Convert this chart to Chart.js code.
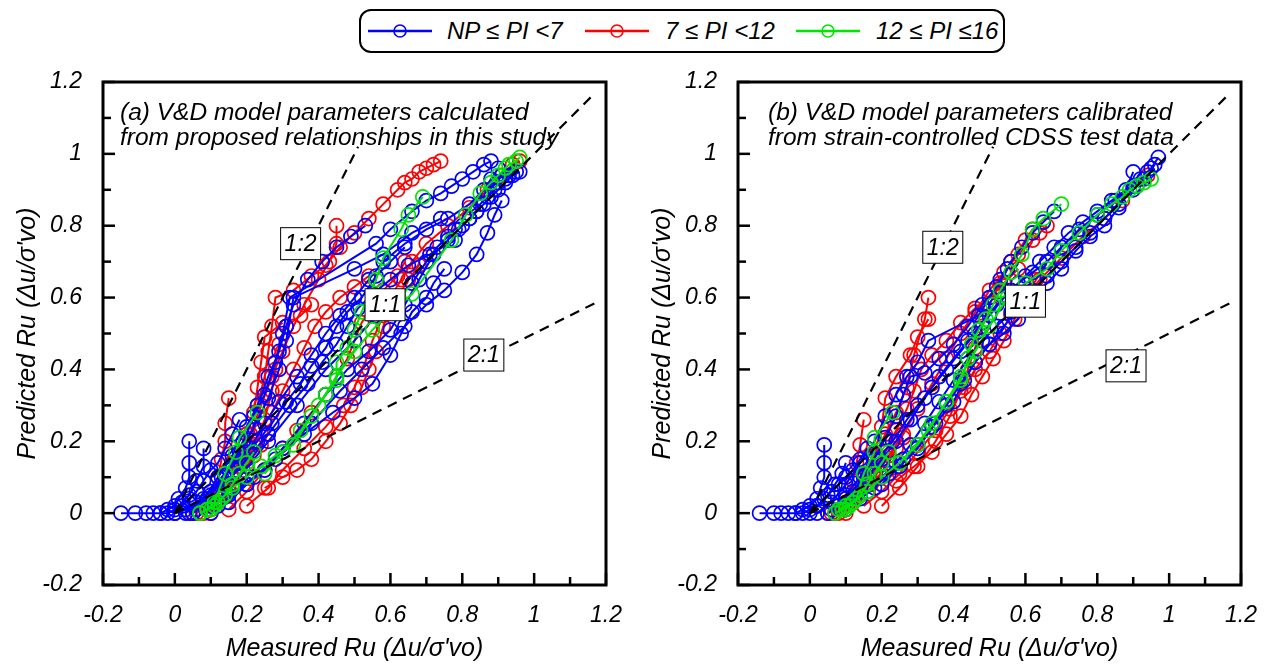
<!DOCTYPE html>
<html>
<head>
<meta charset="utf-8">
<script src="https://cdn.jsdelivr.net/npm/chart.js@4.4.1/dist/chart.umd.min.js"></script>
<style>
  body { margin: 0; background: #fff; font-family: Arial, "Liberation Sans", sans-serif; }
  #wrap { position: relative; width: 1270px; height: 666px; overflow: hidden; }
  .panel { position: absolute; top: 0; }
  #legend { position: absolute; left: 359px; top: 9px; width: 642px; height: 40px;
            border: 2px solid #000; border-radius: 12px; }
  #legend svg, #legend span { position: absolute; }
  #legend span { top: 6px; font-style: italic; font-size: 24px; color: #000; white-space: nowrap; }
</style>
</head>
<body>
<div id="wrap">
  <div id="legend"></div>
  <canvas id="panelA" class="panel" width="635" height="666" style="left:0"></canvas>
  <canvas id="panelB" class="panel" width="635" height="666" style="left:635px"></canvas>
</div>
<script>
// axis ticks
const xTicks = [-0.2, 0, 0.2, 0.4, 0.6, 0.8, 1, 1.2];
const xTickLabels = ['-0.2', '0', '0.2', '0.4', '0.6', '0.8', '1', '1.2'];
const yTicks = [-0.2, 0, 0.2, 0.4, 0.6, 0.8, 1, 1.2];
const yTickLabels = ['-0.2', '0', '0.2', '0.4', '0.6', '0.8', '1', '1.2'];

// groups
const groupNames = ['NP \u2264 PI <7', '7 \u2264 PI <12', '12 \u2264 PI \u226416'];
const groupColors = ['#0000ff', '#ff0000', '#00e600'];

// reference lines (measured, predicted)
const line11 = [[0, 0], [1.17, 1.17]];
const line12 = [[0, 0], [0.51, 1.02]];
const line21 = [[0, 0], [1.17, 0.585]];

// (a) calculated from proposed relationships
const aBlue = [
  [[-0.15,0],[-0.11,0],[-0.08,0],[-0.06,0],[-0.04,0],[-0.02,0.01],[0,0.02],[0.01,0.04],[0.03,0.07],[0.04,0.1],[0.04,0.14],[0.04,0.2]],
  [[0,0],[0.02,0.03],[0.04,0.05],[0.06,0.09],[0.08,0.13],[0.08,0.18]],
  [[0.03,0],[0.08,0.04],[0.12,0.1],[0.16,0.16],[0.2,0.24],[0.23,0.3],[0.26,0.38],[0.29,0.45],[0.31,0.52],[0.33,0.58],[0.37,0.65],[0.41,0.7],[0.45,0.74],[0.49,0.77],[0.53,0.8]],
  [[0.05,0],[0.1,0.05],[0.15,0.12],[0.19,0.2],[0.22,0.27],[0.25,0.33],[0.28,0.42],[0.3,0.5],[0.32,0.6],[0.56,0.75],[0.6,0.79],[0.66,0.84],[0.7,0.87],[0.74,0.89],[0.77,0.91],[0.8,0.93],[0.83,0.95],[0.86,0.97],[0.88,0.98]],
  [[0.04,0],[0.09,0.04],[0.14,0.1],[0.18,0.17],[0.22,0.24],[0.26,0.32],[0.29,0.4],[0.31,0.48],[0.33,0.6],[0.5,0.68],[0.58,0.72],[0.66,0.78],[0.74,0.82]],
  [[0.1,0],[0.15,0.03],[0.2,0.08],[0.25,0.12],[0.3,0.18],[0.36,0.25],[0.42,0.33],[0.48,0.4],[0.54,0.45],[0.6,0.51],[0.64,0.58],[0.68,0.65],[0.72,0.72],[0.76,0.76],[0.79,0.79],[0.82,0.82],[0.84,0.84],[0.86,0.86],[0.88,0.88],[0.9,0.9],[0.92,0.92],[0.94,0.94],[0.96,0.95]],
  [[0.1,0.02],[0.18,0.1],[0.26,0.2],[0.34,0.3],[0.42,0.4],[0.5,0.48],[0.56,0.55],[0.62,0.6],[0.66,0.64],[0.7,0.7],[0.73,0.74],[0.76,0.77],[0.78,0.79],[0.8,0.8],[0.82,0.82],[0.84,0.84],[0.85,0.86],[0.87,0.88],[0.89,0.9],[0.9,0.92],[0.92,0.93],[0.93,0.94],[0.95,0.95]],
  [[0.06,0.01],[0.12,0.06],[0.17,0.12],[0.21,0.18],[0.25,0.25],[0.29,0.31],[0.34,0.38],[0.38,0.44],[0.42,0.5],[0.46,0.55],[0.5,0.6],[0.54,0.65],[0.58,0.7],[0.64,0.75],[0.7,0.79],[0.76,0.82],[0.82,0.86],[0.86,0.9],[0.88,0.93],[0.9,0.96]],
  [[0.08,0.02],[0.14,0.08],[0.2,0.15],[0.26,0.22],[0.32,0.3],[0.37,0.36],[0.41,0.42],[0.45,0.47],[0.48,0.52],[0.51,0.57],[0.55,0.61],[0.6,0.65],[0.65,0.69],[0.71,0.72],[0.78,0.76]],
  [[0.12,0.02],[0.2,0.08],[0.28,0.15],[0.36,0.22],[0.44,0.28],[0.5,0.32],[0.55,0.36],[0.6,0.44],[0.63,0.5],[0.66,0.56],[0.7,0.6],[0.72,0.64],[0.75,0.68]],
  [[0.15,0.05],[0.22,0.1],[0.3,0.17],[0.38,0.25],[0.46,0.34],[0.52,0.4],[0.58,0.46],[0.64,0.52],[0.7,0.58],[0.75,0.62],[0.8,0.67],[0.84,0.72],[0.87,0.78],[0.89,0.83],[0.91,0.87]],
  [[-0.04,0],[-0.02,0],[0,0.01],[0.02,0.02],[0.04,0.04],[0.06,0.06],[0.08,0.09],[0.1,0.12],[0.12,0.14],[0.14,0.18],[0.16,0.22],[0.18,0.26]],
  [[0,0],[0.03,0.01],[0.06,0.03],[0.1,0.06],[0.13,0.1],[0.16,0.13],[0.2,0.17],[0.23,0.2],[0.27,0.25],[0.31,0.31],[0.35,0.36],[0.38,0.41],[0.42,0.46],[0.45,0.52],[0.48,0.56],[0.52,0.6],[0.56,0.66],[0.6,0.7],[0.64,0.74]]
];
const aRed = [
  [[0.08,0],[0.12,0.06],[0.16,0.14],[0.2,0.22],[0.23,0.3],[0.25,0.38],[0.26,0.45],[0.27,0.52],[0.28,0.6],[0.33,0.62],[0.38,0.66],[0.42,0.69],[0.46,0.74],[0.5,0.78],[0.54,0.82],[0.58,0.86],[0.62,0.9],[0.64,0.92],[0.66,0.93],[0.68,0.95],[0.7,0.96],[0.72,0.97],[0.74,0.98]],
  [[0.07,0],[0.1,0.04],[0.12,0.1],[0.13,0.15],[0.14,0.2],[0.14,0.25],[0.15,0.32]],
  [[0.1,0],[0.14,0.06],[0.18,0.14],[0.21,0.22],[0.24,0.3],[0.27,0.38],[0.3,0.45],[0.33,0.52],[0.36,0.58],[0.4,0.65],[0.43,0.7],[0.45,0.75],[0.45,0.8]],
  [[0.1,0.01],[0.15,0.06],[0.19,0.12],[0.22,0.19],[0.25,0.26],[0.27,0.34],[0.28,0.4],[0.29,0.47],[0.31,0.52],[0.35,0.55],[0.38,0.58]],
  [[0.2,0.02],[0.26,0.07],[0.3,0.12],[0.36,0.18],[0.42,0.24],[0.47,0.3],[0.5,0.35],[0.53,0.42],[0.55,0.48],[0.58,0.55],[0.6,0.6],[0.63,0.65],[0.66,0.7],[0.7,0.75],[0.76,0.8],[0.82,0.85],[0.87,0.9],[0.91,0.94],[0.94,0.97],[0.96,0.98]],
  [[0.25,0.07],[0.3,0.1],[0.34,0.12],[0.38,0.15],[0.42,0.2],[0.46,0.25],[0.49,0.3],[0.52,0.35],[0.54,0.4],[0.56,0.45],[0.58,0.52],[0.6,0.57],[0.62,0.6],[0.65,0.65],[0.68,0.69]],
  [[0.05,0],[0.1,0.03],[0.14,0.08],[0.18,0.13],[0.21,0.18],[0.24,0.23],[0.27,0.28],[0.3,0.34],[0.33,0.4],[0.36,0.46],[0.39,0.52],[0.42,0.56],[0.46,0.6],[0.5,0.63],[0.54,0.66]],
  [[0.15,0.01],[0.2,0.06],[0.25,0.12],[0.3,0.18],[0.34,0.23],[0.38,0.28],[0.42,0.33],[0.45,0.38],[0.48,0.43],[0.5,0.48],[0.52,0.53],[0.55,0.58],[0.58,0.62],[0.62,0.66],[0.64,0.7]],
  [[0.06,0],[0.09,0.02],[0.12,0.04],[0.15,0.07],[0.18,0.1],[0.2,0.13],[0.22,0.16],[0.24,0.19],[0.26,0.22]],
  [[0.1,0.01],[0.13,0.05],[0.16,0.1],[0.18,0.16],[0.2,0.22],[0.22,0.28],[0.23,0.35],[0.24,0.42],[0.25,0.49],[0.3,0.53]]
];
const aGreen = [
  [[0.07,0],[0.09,0.01],[0.11,0.03],[0.14,0.11],[0.17,0.17],[0.18,0.21],[0.23,0.28]],
  [[0.07,0],[0.09,0.01],[0.11,0.02],[0.13,0.04],[0.16,0.07],[0.2,0.1],[0.24,0.13],[0.28,0.16],[0.33,0.19],[0.38,0.27],[0.42,0.33],[0.45,0.37],[0.45,0.42],[0.48,0.46],[0.5,0.51],[0.52,0.56],[0.56,0.65],[0.58,0.71],[0.63,0.79],[0.65,0.83],[0.69,0.88]],
  [[0.25,0.11],[0.3,0.17],[0.35,0.23],[0.4,0.3],[0.45,0.38],[0.5,0.45],[0.55,0.51],[0.6,0.56],[0.66,0.61],[0.77,0.76],[0.81,0.83],[0.85,0.89],[0.88,0.92],[0.9,0.94],[0.92,0.96],[0.93,0.97],[0.95,0.98],[0.96,0.99]],
  [[0.1,0.01],[0.12,0.03],[0.14,0.05],[0.16,0.08],[0.18,0.11],[0.2,0.14],[0.22,0.17]]
];

// (b) calibrated from strain-controlled CDSS test data
const bBlue = [
  [[-0.14,0],[-0.1,0],[-0.08,0],[-0.06,0],[-0.04,0],[-0.02,0.01],[0,0.02],[0.02,0.04],[0.03,0.07],[0.04,0.1],[0.04,0.14],[0.04,0.19]],
  [[0,0],[0.02,0.02],[0.05,0.05],[0.07,0.08],[0.09,0.11],[0.1,0.14]],
  [[0.02,0],[0.06,0.03],[0.1,0.08],[0.14,0.14],[0.18,0.2],[0.21,0.27],[0.24,0.33],[0.27,0.38],[0.3,0.42],[0.33,0.48],[0.47,0.55],[0.5,0.6],[0.53,0.65],[0.56,0.7],[0.59,0.74],[0.62,0.78],[0.65,0.81],[0.68,0.84]],
  [[0.08,0.02],[0.12,0.06],[0.16,0.1],[0.2,0.15],[0.24,0.2],[0.28,0.26],[0.32,0.32],[0.36,0.38],[0.4,0.43],[0.44,0.48],[0.48,0.53],[0.52,0.58],[0.56,0.62],[0.6,0.66],[0.64,0.7],[0.68,0.74],[0.72,0.78],[0.76,0.81],[0.8,0.84],[0.84,0.87],[0.88,0.9],[0.92,0.93],[0.95,0.96],[0.97,0.99]],
  [[0.1,0.01],[0.14,0.04],[0.18,0.07],[0.22,0.11],[0.26,0.15],[0.3,0.19],[0.34,0.24],[0.38,0.3],[0.42,0.36],[0.46,0.42],[0.5,0.47],[0.54,0.52],[0.58,0.57],[0.62,0.62],[0.66,0.66],[0.7,0.7],[0.74,0.74],[0.78,0.78],[0.82,0.82],[0.86,0.86],[0.9,0.9],[0.93,0.93],[0.96,0.97]],
  [[0.05,0],[0.1,0.04],[0.15,0.1],[0.19,0.15],[0.23,0.2],[0.27,0.26],[0.3,0.3],[0.34,0.35],[0.38,0.4],[0.42,0.45],[0.46,0.5],[0.5,0.55],[0.54,0.6],[0.58,0.64],[0.62,0.67],[0.66,0.7],[0.7,0.74],[0.75,0.79],[0.8,0.83],[0.85,0.87],[0.9,0.91],[0.94,0.95]],
  [[0.2,0.08],[0.25,0.13],[0.3,0.18],[0.35,0.25],[0.4,0.31],[0.43,0.37],[0.46,0.42],[0.5,0.47],[0.54,0.5],[0.58,0.54],[0.62,0.6],[0.66,0.64],[0.7,0.68],[0.74,0.73],[0.78,0.77],[0.82,0.8],[0.86,0.85],[0.9,0.95]],
  [[-0.04,0],[-0.02,0],[0,0.01],[0.02,0.02],[0.04,0.04],[0.06,0.06],[0.08,0.08],[0.1,0.1],[0.12,0.12],[0.14,0.15],[0.16,0.18]],
  [[0.12,0.03],[0.16,0.06],[0.2,0.1],[0.24,0.14],[0.28,0.19],[0.32,0.25],[0.36,0.31],[0.4,0.37],[0.44,0.43],[0.48,0.48],[0.52,0.52],[0.56,0.56],[0.6,0.6]],
  [[0.06,0.01],[0.1,0.05],[0.14,0.1],[0.18,0.15],[0.21,0.21],[0.24,0.27],[0.26,0.33],[0.28,0.38],[0.32,0.39],[0.36,0.43],[0.4,0.47],[0.44,0.52],[0.48,0.58],[0.52,0.63],[0.55,0.68]]
];
const bRed = [
  [[0.08,0],[0.12,0.04],[0.15,0.1],[0.18,0.16],[0.21,0.22],[0.24,0.28],[0.27,0.35],[0.29,0.44],[0.32,0.54],[0.33,0.6]],
  [[0.07,0],[0.1,0.04],[0.12,0.09],[0.13,0.14],[0.14,0.19],[0.15,0.26]],
  [[0.1,0.01],[0.14,0.05],[0.18,0.1],[0.22,0.16],[0.26,0.22],[0.3,0.29],[0.34,0.36],[0.38,0.43],[0.42,0.5],[0.46,0.56],[0.5,0.62],[0.54,0.67],[0.58,0.72],[0.62,0.76],[0.64,0.78],[0.66,0.8]],
  [[0.24,0.09],[0.29,0.13],[0.34,0.17],[0.38,0.22],[0.42,0.27],[0.45,0.33],[0.48,0.38],[0.51,0.43],[0.54,0.48],[0.57,0.54],[0.6,0.6],[0.63,0.65],[0.66,0.7]],
  [[0.15,0.02],[0.2,0.06],[0.25,0.11],[0.3,0.17],[0.35,0.23],[0.39,0.29],[0.43,0.35],[0.46,0.4],[0.5,0.45],[0.53,0.5],[0.56,0.55],[0.6,0.6],[0.64,0.65],[0.7,0.71],[0.76,0.77],[0.82,0.82],[0.87,0.87],[0.91,0.91],[0.94,0.94]],
  [[0.06,0],[0.1,0.03],[0.14,0.07],[0.18,0.12],[0.21,0.17],[0.24,0.23],[0.27,0.29],[0.29,0.34],[0.31,0.4],[0.34,0.44],[0.38,0.48],[0.42,0.53],[0.46,0.57],[0.5,0.6],[0.54,0.64],[0.58,0.68]],
  [[0.1,0],[0.13,0.05],[0.16,0.11],[0.18,0.17],[0.2,0.24],[0.21,0.32],[0.24,0.38],[0.28,0.44],[0.3,0.49],[0.33,0.54]],
  [[0.05,0],[0.08,0.01],[0.11,0.03],[0.14,0.05],[0.17,0.08],[0.2,0.11],[0.22,0.14],[0.24,0.18],[0.26,0.21]],
  [[0.2,0.02],[0.25,0.07],[0.3,0.13],[0.35,0.2],[0.39,0.27],[0.42,0.34],[0.44,0.4],[0.46,0.46],[0.48,0.52],[0.5,0.58],[0.53,0.64],[0.56,0.7],[0.6,0.76],[0.62,0.79]]
];
const bGreen = [
  [[0.07,0],[0.09,0.01],[0.11,0.02],[0.13,0.04],[0.15,0.11],[0.18,0.17],[0.18,0.21],[0.23,0.28]],
  [[0.08,0.01],[0.1,0.02],[0.12,0.03],[0.16,0.06],[0.2,0.1],[0.25,0.14],[0.33,0.23],[0.38,0.31],[0.42,0.37],[0.44,0.43],[0.45,0.47],[0.47,0.51],[0.49,0.54],[0.51,0.58],[0.53,0.62],[0.56,0.67],[0.59,0.72],[0.62,0.79],[0.65,0.82],[0.7,0.86]],
  [[0.25,0.14],[0.3,0.19],[0.34,0.25],[0.38,0.31],[0.42,0.38],[0.46,0.45],[0.5,0.52],[0.55,0.6],[0.6,0.64],[0.66,0.68],[0.7,0.73],[0.75,0.78],[0.8,0.83],[0.84,0.86],[0.87,0.88],[0.89,0.9],[0.91,0.91],[0.93,0.92],[0.95,0.93]],
  [[0.1,0.01],[0.12,0.03],[0.14,0.05],[0.16,0.08],[0.18,0.11],[0.2,0.14],[0.22,0.17]]
];

const aNotes = ['(a) V&D model parameters calculated', 'from proposed relationships in this study'];
const bNotes = ['(b) V&D model parameters calibrated', 'from strain-controlled CDSS test data'];
const aBoxes = [{ t: '1:2', x: 0.35, y: 0.75 }, { t: '1:1', x: 0.585, y: 0.58 }, { t: '2:1', x: 0.86, y: 0.44 }];
const bBoxes = [{ t: '1:2', x: 0.37, y: 0.74 }, { t: '1:1', x: 0.6, y: 0.59 }, { t: '2:1', x: 0.88, y: 0.41 }];

const FONT = 'Arial, "Liberation Sans", sans-serif';
const toXY = pts => pts.map(p => ({ x: p[0], y: p[1] }));

// legend (html)
const legendIcons = [7, 224, 435];
const legendTexts = [86, 304, 515];
const legend = document.getElementById('legend');
groupNames.forEach((name, i) => {
  legend.insertAdjacentHTML('beforeend',
    `<svg width="64" height="20" style="left:${legendIcons[i]}px;top:10px">
       <line x1="0" y1="10" x2="64" y2="10" stroke="${groupColors[i]}" stroke-width="2.5"/>
       <circle cx="32" cy="10" r="6" fill="none" stroke="${groupColors[i]}" stroke-width="1.6"/>
     </svg><span style="left:${legendTexts[i]}px">${name}</span>`);
});

const framePlugin = {
  id: 'frame',
  afterDatasetsDraw(chart, args, opts) {
    const { ctx, chartArea: a, scales: { x, y } } = chart;
    ctx.save();
    ctx.strokeStyle = '#000';
    ctx.lineWidth = 2.5;
    const seg = (x1, y1, x2, y2) => { ctx.beginPath(); ctx.moveTo(x1, y1); ctx.lineTo(x2, y2); ctx.stroke(); };
    xTicks.forEach((v, i) => {
      const px = x.getPixelForValue(v);
      seg(px, a.bottom, px, a.bottom - 12);
      if (i < xTicks.length - 1) {
        const pm = x.getPixelForValue((v + xTicks[i + 1]) / 2);
        seg(pm, a.bottom, pm, a.bottom - 8);
      }
    });
    yTicks.forEach((v, i) => {
      const py = y.getPixelForValue(v);
      seg(a.left, py, a.left + 12, py);
      if (i < yTicks.length - 1) {
        const pm = y.getPixelForValue((v + yTicks[i + 1]) / 2);
        seg(a.left, pm, a.left + 8, pm);
      }
    });
    ctx.lineWidth = 3;
    ctx.strokeRect(a.left, a.top, a.width, a.height);

    // ratio label boxes
    ctx.font = 'italic 23px ' + FONT;
    ctx.textAlign = 'center';
    ctx.textBaseline = 'middle';
    opts.boxes.forEach(b => {
      const cx = x.getPixelForValue(b.x), cy = y.getPixelForValue(b.y);
      ctx.fillStyle = '#fff';
      ctx.fillRect(cx - 20, cy - 16, 40, 32);
      ctx.lineWidth = 1;
      ctx.strokeRect(cx - 20, cy - 16, 40, 32);
      ctx.fillStyle = '#000';
      ctx.fillText(b.t, cx, cy + 1);
    });

    // panel notes
    ctx.font = 'italic 24.5px ' + FONT;
    ctx.textAlign = 'left';
    opts.notes.forEach((t, i) => ctx.fillText(t, a.left + opts.noteDx, a.top + 31 + i * 25));
    ctx.restore();
  }
};

function curveSets(curves, color) {
  return curves.map(c => ({
    data: toXY(c),
    showLine: true,
    borderColor: color,
    borderWidth: 2,
    pointRadius: 7,
    pointBorderWidth: 1.7,
    pointBorderColor: color,
    pointBackgroundColor: 'rgba(0,0,0,0)',
    tension: 0
  }));
}

function refSet(pts) {
  return {
    data: toXY(pts),
    showLine: true,
    borderColor: '#000',
    borderWidth: 2.2,
    borderDash: [10, 7],
    pointRadius: 0
  };
}

function makePanel(id, blue, red, green, notes, noteDx, boxes) {
  const tickFont = { family: FONT, size: 23, style: 'italic' };
  const titleFont = { family: FONT, size: 25, style: 'italic' };
  new Chart(document.getElementById(id), {
    type: 'scatter',
    data: {
      datasets: [
        refSet(line11), refSet(line12), refSet(line21),
        ...curveSets(green, groupColors[2]),
        ...curveSets(blue, groupColors[0]),
        ...curveSets(red, groupColors[1])
      ]
    },
    options: {
      responsive: false,
      animation: false,
      devicePixelRatio: 1,
      layout: { padding: { top: 82, right: 29, left: 0, bottom: 0 } },
      plugins: {
        legend: { display: false },
        tooltip: { enabled: false },
        frame: { notes, noteDx, boxes }
      },
      scales: {
        x: {
          type: 'linear', min: -0.2, max: 1.2,
          afterBuildTicks: s => { s.ticks = xTicks.map(v => ({ value: v })); },
          afterFit: s => { s.height = 81; },
          grid: { display: false },
          border: { display: false },
          ticks: { autoSkip: false, maxRotation: 0, padding: 9, color: '#000', font: tickFont,
                   callback: (v, i) => xTickLabels[i] },
          title: { display: true, text: "Measured Ru (\u0394u/\u03c3'vo)", color: '#000', font: titleFont,
                   padding: { top: 0, bottom: 2 } }
        },
        y: {
          type: 'linear', min: -0.2, max: 1.2,
          afterBuildTicks: s => { s.ticks = yTicks.map(v => ({ value: v })); },
          afterFit: s => { s.width = 103; },
          grid: { display: false },
          border: { display: false },
          ticks: { autoSkip: false, padding: 13, color: '#000', font: tickFont,
                   callback: (v, i) => yTickLabels[i] },
          title: { display: true, text: "Predicted Ru (\u0394u/\u03c3'vo)", color: '#000', font: titleFont,
                   padding: { top: 13, bottom: 0 } }
        }
      }
    },
    plugins: [framePlugin]
  });
}

makePanel('panelA', aBlue, aRed, aGreen, aNotes, 17, aBoxes);
makePanel('panelB', bBlue, bRed, bGreen, bNotes, 30, bBoxes);
</script>
</body>
</html>
